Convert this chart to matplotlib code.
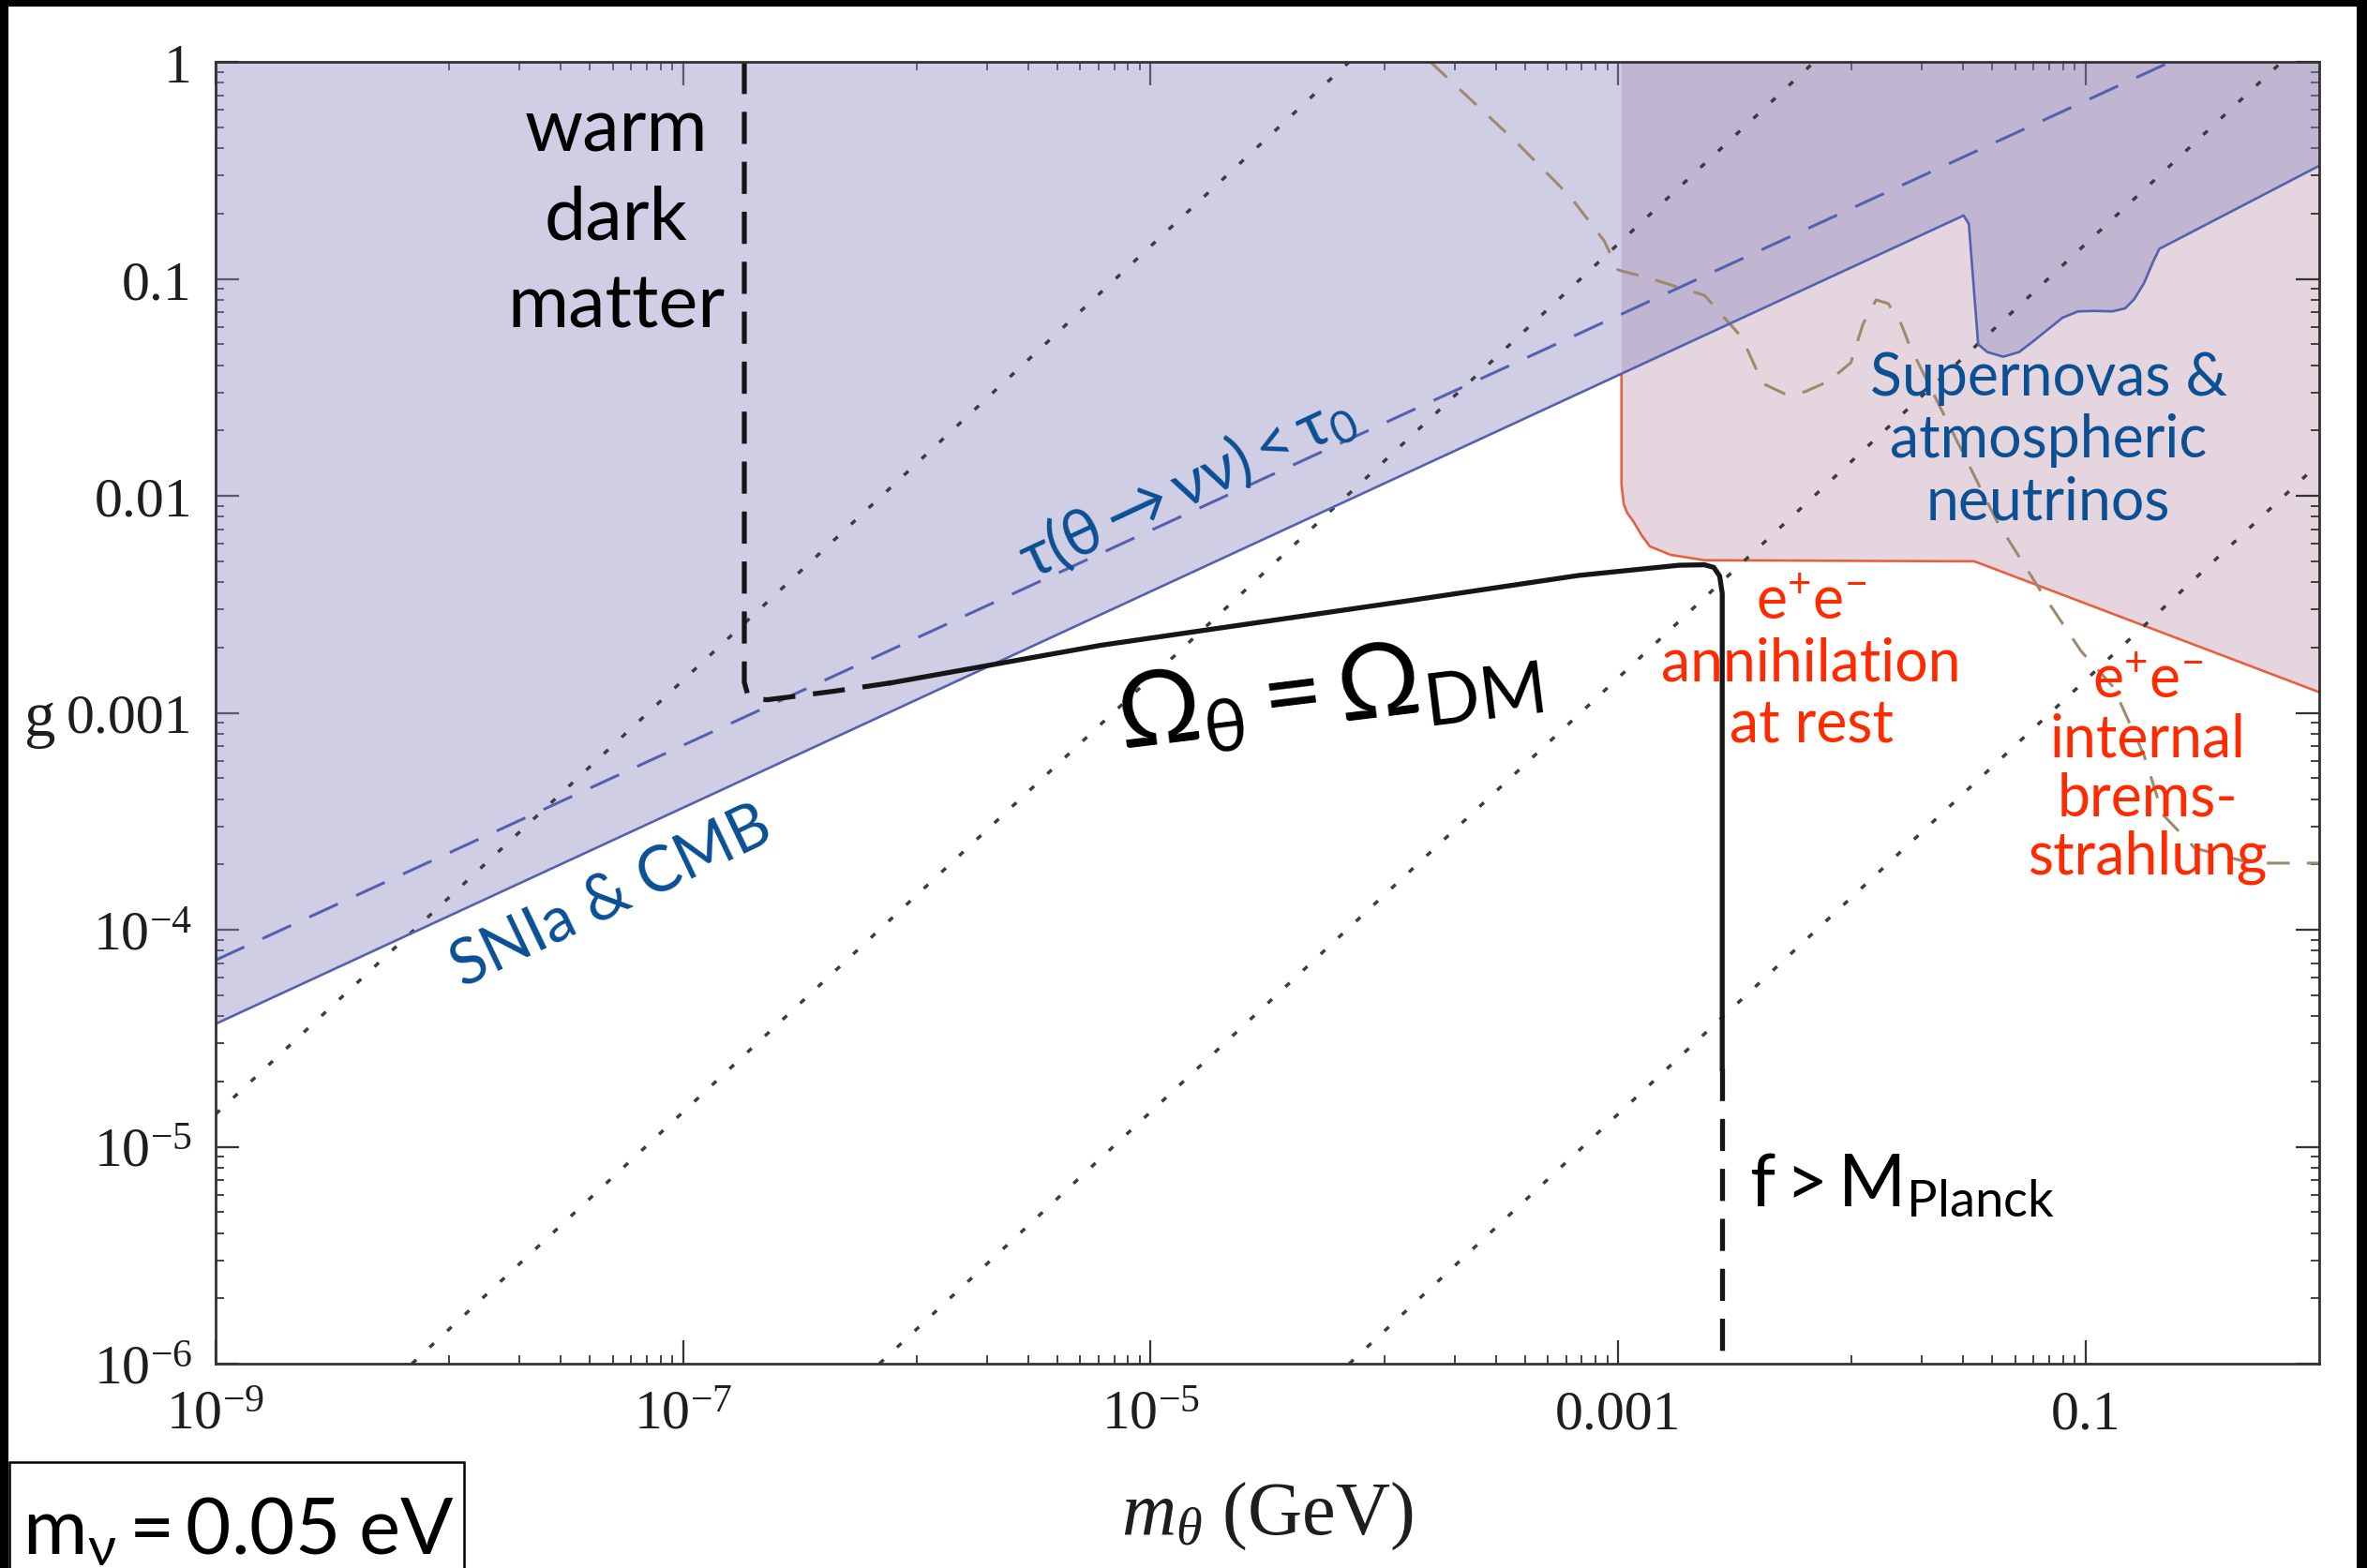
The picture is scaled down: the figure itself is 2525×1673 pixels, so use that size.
import numpy as np
import matplotlib

matplotlib.use("Agg")
import matplotlib.pyplot as plt
from matplotlib.patches import Rectangle
from matplotlib.ticker import FixedFormatter, FixedLocator, NullFormatter
from matplotlib.transforms import blended_transform_factory

plt.rcParams["font.family"] = ["Liberation Serif", "DejaVu Serif"]
plt.rcParams["mathtext.fontset"] = "custom"
plt.rcParams["mathtext.rm"] = "Liberation Serif"
plt.rcParams["mathtext.it"] = "Liberation Serif:italic"
plt.rcParams["mathtext.bf"] = "Liberation Serif:bold"
plt.rcParams["mathtext.sf"] = "Lato"

SANS = ["Lato", "DejaVu Sans"]
W_PX, H_PX = 2525, 1674

# everything below is log10(m_theta / GeV) vs log10(g)
SN_CMB_LOGM = [-9.0, -1.521, -1.499, -1.459, -1.419, -1.352, -1.285, -1.232, -1.165,
               -1.098, -1.031, -0.964, -0.884, -0.830, -0.791, -0.750, -0.710, -0.684, 0.0]
SN_CMB_LOGG = [-4.434, -0.708, -0.747, -1.302, -1.338, -1.359, -1.338, -1.295, -1.237,
               -1.179, -1.150, -1.148, -1.150, -1.136, -1.093, -1.021, -0.920, -0.862, -0.479]

TAU_LOGM = [-9.0, 0.0]
TAU_LOGG = [-4.14, 0.315]

EE_LOGM = [-2.985, -2.985, -2.975, -2.96, -2.935, -2.90, -2.864, -2.775, -2.63, -1.475, 0.0]
EE_LOGG = [-1.44, -1.95, -2.04, -2.08, -2.117, -2.18, -2.233, -2.272, -2.297, -2.302, -2.905]

TAN_LOGM = [-3.803, -3.434, -3.204, -3.059, -3.0, -2.863, -2.630, -2.470, -2.381, -2.289,
            -2.201, -2.101, -2.004, -1.952, -1.896, -1.844, -1.788, -1.752, -1.379, -1.198,
            -1.018, -0.881, -0.749, -0.669, -0.532, -0.292, 0.0]
TAN_LOGG = [0.0, -0.371, -0.622, -0.825, -0.959, -0.998, -1.076, -1.270, -1.482, -1.529,
            -1.521, -1.473, -1.387, -1.209, -1.097, -1.114, -1.209, -1.309, -2.117, -2.428,
            -2.717, -2.881, -3.197, -3.469, -3.624, -3.693, -3.693]

WDM_LOGM = [-6.738, -6.738, -6.725, -6.69, -6.64, -6.55, -6.35, -6.11]
WDM_LOGG = [0.0, -2.86, -2.91, -2.935, -2.94, -2.928, -2.90, -2.862]

OMEGA_LOGM = [-6.11, -5.213, -3.906, -3.168, -2.738, -2.63, -2.59, -2.565, -2.554, -2.554]
OMEGA_LOGG = [-2.862, -2.689, -2.485, -2.367, -2.320, -2.318, -2.33, -2.37, -2.45, -4.64]

PLANCK_LOGM = [-2.554, -2.554]
PLANCK_LOGG = [-4.64, -6.0]

DOT_START_LOGM = [-9.0, -8.16, -6.16, -4.15]
DOT_START_LOGG = [-4.85, -6.0, -6.0, -6.0]
DOT_END_LOGM = [-4.15, -2.16, -0.16, 0.0]
DOT_END_LOGG = [0.0, 0.0, 0.0, -1.85]

X_MAJOR = [1e-9, 1e-7, 1e-5, 1e-3, 1e-1]
X_LABELS = [r"$10^{-9}$", r"$10^{-7}$", r"$10^{-5}$", "0.001", "0.1"]
Y_MAJOR = [1e-6, 1e-5, 1e-4, 1e-3, 1e-2, 1e-1, 1.0]
Y_LABELS = [r"$10^{-6}$", r"$10^{-5}$", r"$10^{-4}$", "0.001", "0.01", "0.1", "1"]

LAVENDER = (143 / 255, 140 / 255, 195 / 255)
PINK = "#e4d5de"
BLUE_LINE = "#5460b0"
RED_LINE = "#e8603e"
TAN = "#a08a6e"
BLUE_TEXT = "#0b4f94"
RED_TEXT = "#ff2a00"


def pw(vals):
    return 10.0 ** np.asarray(vals, dtype=float)


def main() -> None:
    fig = plt.figure(figsize=(W_PX / 100, H_PX / 100), dpi=100)
    ax = fig.add_axes([230 / W_PX, 1 - 1456 / H_PX, (2474 - 230) / W_PX, (1456 - 67) / H_PX])
    ax.set_xscale("log")
    ax.set_yscale("log")
    ax.set_xlim(1e-9, 1.0)
    ax.set_ylim(1e-6, 1.0)

    # excluded regions
    em, eg = pw(EE_LOGM), pw(EE_LOGG)
    ax.fill(np.r_[em, em[-1], em[0]], np.r_[eg, 1.0, 1.0], color=PINK, lw=0, zorder=1)
    sm, sg = pw(SN_CMB_LOGM), pw(SN_CMB_LOGG)
    ax.fill(np.r_[sm, sm[-1], sm[0]], np.r_[sg, 1.0, 1.0], color=LAVENDER, alpha=0.42, lw=0, zorder=2)

    ax.plot(em, eg, color=RED_LINE, lw=1.9, zorder=3)

    for x0, y0, x1, y1 in zip(DOT_START_LOGM, DOT_START_LOGG, DOT_END_LOGM, DOT_END_LOGG):
        ax.plot(pw([x0, x1]), pw([y0, y1]), color="#3c3c3c", lw=2.5,
                dashes=(1.8, 5.6), zorder=4)

    ax.plot(pw(TAN_LOGM), pw(TAN_LOGG), color=TAN, lw=2.2, dashes=(8, 6), zorder=4)

    ax.plot(pw(TAU_LOGM), pw(TAU_LOGG), color=BLUE_LINE, lw=2.2, dashes=(11, 7), zorder=5)
    ax.plot(sm, sg, color=BLUE_LINE, lw=1.9, zorder=5)

    ax.plot(pw(WDM_LOGM), pw(WDM_LOGG), color="#161616", lw=3.8, dashes=(6.5, 3.6), zorder=6)
    ax.plot(pw(OMEGA_LOGM), pw(OMEGA_LOGG), color="#161616", lw=3.8,
            solid_joinstyle="round", zorder=6)
    ax.plot(pw(PLANCK_LOGM), pw(PLANCK_LOGG), color="#161616", lw=3.8, dashes=(6.5, 3.6), zorder=6)

    # axes styling
    for sp in ax.spines.values():
        sp.set_linewidth(2.0)
        sp.set_color("#333333")
        sp.set_zorder(8)
    ax.xaxis.set_major_locator(FixedLocator(X_MAJOR))
    ax.xaxis.set_major_formatter(FixedFormatter(X_LABELS))
    ax.xaxis.set_minor_locator(FixedLocator([k * 10.0 ** e for e in (-8, -6, -4, -2) for k in range(1, 10)]))
    ax.xaxis.set_minor_formatter(NullFormatter())
    ax.yaxis.set_major_locator(FixedLocator(Y_MAJOR))
    ax.yaxis.set_major_formatter(FixedFormatter(Y_LABELS))
    ax.yaxis.set_minor_locator(FixedLocator([k * 10.0 ** e for e in range(-6, 0) for k in range(2, 10)]))
    ax.yaxis.set_minor_formatter(NullFormatter())
    ax.tick_params(which="both", direction="in", top=True, right=True, color="#333333",
                   labelcolor="#1e1e1e", labelsize=43)
    ax.tick_params(which="major", length=18, width=1.6)
    ax.tick_params(which="minor", length=6.5, width=1.3)
    ax.tick_params(axis="x", pad=20)
    ax.tick_params(axis="y", pad=18)

    ax.set_xlabel(r"$m_{\theta}$ (GeV)", fontsize=58, color="#1e1e1e", labelpad=30)
    gtrans = blended_transform_factory(fig.transFigure, ax.transData)
    ax.text(42 / W_PX, 1e-3, "g", transform=gtrans, fontsize=48, color="#1e1e1e",
            ha="center", va="center_baseline")

    # annotations
    ax.text(pw(-7.287), pw(-0.719), "warm\ndark\nmatter", family=SANS, fontsize=57,
            ha="center", va="center", multialignment="center", linespacing=1.38, zorder=7)
    ax.text(pw(-4.848), pw(-1.95), r"$\mathsf{\tau(\theta\rightarrow\nu\nu) < \tau_0}$",
            family=SANS, fontsize=49, color=BLUE_TEXT, rotation=25,
            rotation_mode="anchor", ha="center", va="center", zorder=7)
    ax.text(pw(-7.307), pw(-3.849), "SNIa & CMB", family=SANS, fontsize=48, color=BLUE_TEXT,
            rotation=25.5, rotation_mode="anchor", ha="center", va="center", zorder=7)
    ax.text(pw(-1.158), pw(-1.741), "Supernovas &\natmospheric\nneutrinos", family=SANS,
            fontsize=45, color=BLUE_TEXT, ha="center", va="center", multialignment="center",
            linespacing=1.17, zorder=7)
    ax.text(pw(-2.173), pw(-2.771), "$\\mathsf{e^{+}e^{-}}$\nannihilation\nat rest", family=SANS,
            fontsize=45, color=RED_TEXT, ha="center", va="center", multialignment="center",
            linespacing=1.15, zorder=7)
    ax.text(pw(-0.733), pw(-3.257), "$\\mathsf{e^{+}e^{-}}$\ninternal\nbrems-\nstrahlung",
            family=SANS, fontsize=45, color=RED_TEXT, ha="center", va="center",
            multialignment="center", linespacing=1.1, zorder=7)
    ax.text(pw(-4.239), pw(-2.911), r"$\mathsf{\Omega_{\theta} = \Omega_{DM}}$", family=SANS,
            fontsize=80, color="black", rotation=7, rotation_mode="anchor",
            ha="center", va="center", zorder=7)
    ax.text(pw(-1.784), pw(-5.171), r"$\mathsf{f > M_{Planck}}$", family=SANS, fontsize=56,
            color="black", ha="center", va="center", zorder=7)

    # slide frame and the neutrino-mass box
    for x, y, w, h in [(0, 1 - 8 / H_PX, 1, 8 / H_PX), (0, 0, 9 / W_PX, 1),
                       (2514 / W_PX, 0, 11 / W_PX, 1)]:
        fig.add_artist(Rectangle((x, y), w, h, transform=fig.transFigure,
                                 facecolor="black", edgecolor="none"))
    fig.add_artist(Rectangle((10 / W_PX, -0.01), 485 / W_PX, (H_PX - 1561) / H_PX + 0.01,
                             transform=fig.transFigure, facecolor="white",
                             edgecolor="black", lw=1.8))
    fig.text(24 / W_PX, (H_PX - 1658) / H_PX, r"$\mathsf{m_{\nu} = 0.05\ eV}$",
             family=SANS, fontsize=60, ha="left", va="baseline")

    fig.savefig("out.png", dpi=100)
    plt.close(fig)


if __name__ == "__main__":
    main()
